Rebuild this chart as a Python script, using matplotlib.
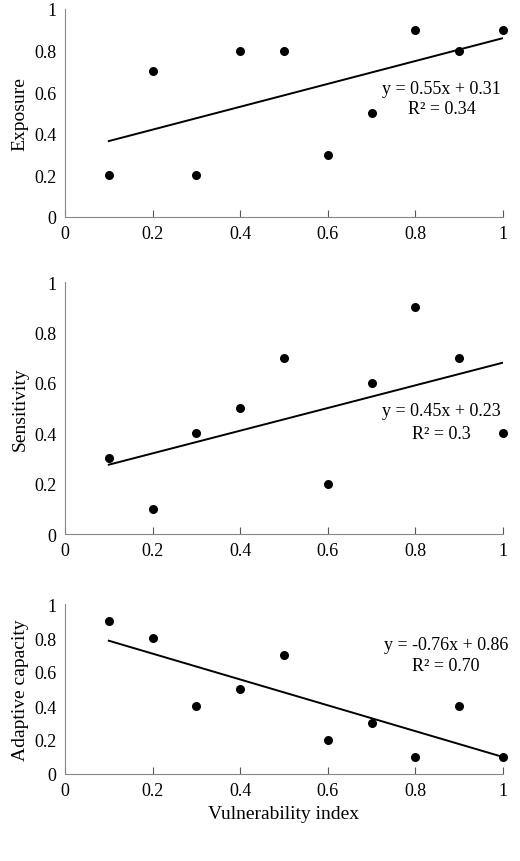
import matplotlib.pyplot as plt
import numpy as np

plt.rcParams['font.family'] = ['Liberation Serif', 'DejaVu Serif']

vuln = [0.1, 0.2, 0.3, 0.4, 0.5, 0.6, 0.7, 0.8, 0.9, 1.0]
exposure = [0.2, 0.7, 0.2, 0.8, 0.8, 0.3, 0.5, 0.9, 0.8, 0.9]
sensitivity = [0.3, 0.1, 0.4, 0.5, 0.7, 0.2, 0.6, 0.9, 0.7, 0.4]
adaptive = [0.9, 0.8, 0.4, 0.5, 0.7, 0.2, 0.3, 0.1, 0.4, 0.1]
fits = [(0.55, 0.31, 'y = 0.55x + 0.31', 'R² = 0.34'),
        (0.45, 0.23, 'y = 0.45x + 0.23', 'R² = 0.3'),
        (-0.76, 0.86, 'y = -0.76x + 0.86', 'R² = 0.70')]
labels = ['Exposure', 'Sensitivity', 'Adaptive capacity']
# axes boxes in pixels: (top, bottom)
boxes = [(10, 218), (283, 535), (605, 775)]
text_pos = [(0.86, 0.62, 0.52), (0.86, 0.49, 0.40), (0.87, 0.76, 0.64)]

W, H = 520, 862
fig = plt.figure(figsize=(W / 100, H / 100), dpi=100)
x = np.array(vuln)
for i, ys in enumerate([exposure, sensitivity, adaptive]):
    top, bot = boxes[i]
    ax = fig.add_axes([65 / W, 1 - bot / H, (503 - 65) / W, (bot - top) / H])
    ax.scatter(x, ys, s=30, color='black', zorder=3, clip_on=False)
    a, b, eq, r2 = fits[i]
    xl = np.array([0.1, 1.0])
    ax.plot(xl, a * xl + b, color='black', lw=1.4)
    tx, ty1, ty2 = text_pos[i]
    ax.text(tx, ty1, eq, ha='center', va='center', fontsize=13)
    ax.text(tx, ty2, r2, ha='center', va='center', fontsize=13)
    ax.set_xlim(0, 1)
    ax.set_ylim(0, 1)
    ax.set_xticks(np.arange(0, 1.01, 0.2))
    ax.set_xticklabels(['0', '0.2', '0.4', '0.6', '0.8', '1'])
    ax.set_yticks(np.arange(0, 1.01, 0.2))
    ax.set_yticklabels(['0', '0.2', '0.4', '0.6', '0.8', '1'])
    ax.spines['top'].set_visible(False)
    ax.spines['right'].set_visible(False)
    ax.spines['left'].set_color('#888888')
    ax.spines['bottom'].set_color('#888888')
    ax.tick_params(axis='x', direction='in', labelsize=13, color='#555555', length=5, pad=6)
    ax.tick_params(axis='y', length=0, labelsize=13, pad=6)
    ax.set_ylabel(labels[i], fontsize=14)
    if i == 2:
        ax.set_xlabel('Vulnerability index', fontsize=14)

fig.savefig('out.png', dpi=100)
